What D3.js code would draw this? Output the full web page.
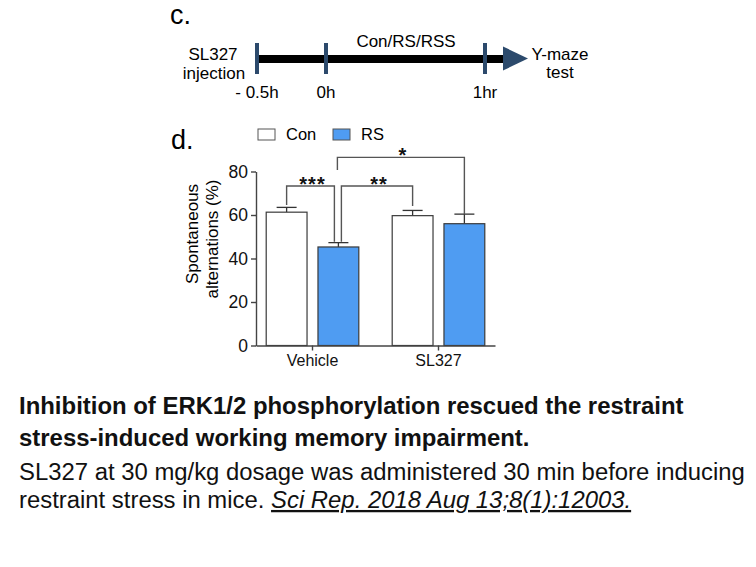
<!DOCTYPE html>
<html>
<head>
<meta charset="utf-8">
<script src="https://cdn.jsdelivr.net/npm/d3@7"></script>
<style>
  body { margin: 0; background: #fff; }
  svg { display: block; font-family: "Liberation Sans", Arial, sans-serif; }
</style>
</head>
<body>
<svg width="756" height="567"></svg>
<script>
// data
const groups = ['Vehicle', 'SL327'];
const conditions = ['Con', 'RS'];
const conMeans = [61.3, 59.7];
const rsMeans = [45.3, 56.0];
const conSem = [2.2, 2.4];
const rsSem = [2.0, 4.4];
const yTicks = [0, 20, 40, 60, 80];

// significance brackets: [group, condition] ends, heights in % units
const brackets = [
  {label: '***', from: ['Vehicle', 'Con'], to: ['Vehicle', 'RS'], top: 73.3, leftFoot: 64.6, rightFoot: 47.7},
  {label: '**', from: ['Vehicle', 'RS'], to: ['SL327', 'Con'], top: 73.3, leftFoot: 47.7, rightFoot: 64.1},
  {label: '*', from: ['Vehicle', 'RS'], to: ['SL327', 'RS'], top: 86.5, leftFoot: 80.7, rightFoot: 60.4}
];

// timeline (panel c)
const timePoints = [-0.5, 0, 1];
const timeLabels = ['- 0.5h', '0h', '1hr'];

const captionBold = [
  'Inhibition of ERK1/2 phosphorylation rescued the restraint',
  'stress-induced working memory impairment.'
];
const captionLine3 = 'SL327 at 30 mg/kg dosage was administered 30 min before inducing';
const captionLine4a = 'restraint stress in mice. ';
const captionLine4b = 'Sci Rep. 2018 Aug 13;8(1):12003.';

const svg = d3.select('svg');
const blue = '#4f9cf2';
const navy = '#2c4a6c';
const axisColor = '#444';

// ---------- panel c: timeline ----------
svg.append('text')
  .attr('x', 170).attr('y', 24)
  .attr('font-size', 27)
  .text('c.');

const tScale = d3.scaleLinear()
  .domain(timePoints)
  .range([257, 326, 485]);

svg.append('line')
  .attr('x1', tScale(-0.5)).attr('x2', 506)
  .attr('y1', 59).attr('y2', 59)
  .attr('stroke', '#000')
  .attr('stroke-width', 8);

svg.append('path')
  .attr('d', 'M503,46.5 L528,58.5 L503,70.5 Z')
  .attr('fill', navy);

svg.selectAll('.tick-bar')
  .data(timePoints)
  .join('rect')
  .attr('class', 'tick-bar')
  .attr('x', d => tScale(d) - 2)
  .attr('y', 43)
  .attr('width', 4)
  .attr('height', 31)
  .attr('fill', navy);

svg.selectAll('.time-label')
  .data(timePoints)
  .join('text')
  .attr('class', 'time-label')
  .attr('x', d => tScale(d))
  .attr('y', 98)
  .attr('text-anchor', 'middle')
  .attr('font-size', 17)
  .text((d, i) => timeLabels[i]);

const tl = [
  {t: 'SL327', x: 213, y: 60},
  {t: 'injection', x: 214, y: 79},
  {t: 'Con/RS/RSS', x: 406, y: 47},
  {t: 'Y-maze', x: 560, y: 60},
  {t: 'test', x: 560, y: 78}
];
svg.selectAll('.tl-text')
  .data(tl)
  .join('text')
  .attr('class', 'tl-text')
  .attr('x', d => d.x)
  .attr('y', d => d.y)
  .attr('text-anchor', 'middle')
  .attr('font-size', 17)
  .text(d => d.t);

// ---------- panel d: bar chart ----------
svg.append('text')
  .attr('x', 171).attr('y', 149)
  .attr('font-size', 27)
  .text('d.');

const x0 = d3.scaleBand()
  .domain(groups)
  .range([256, 495])
  .paddingInner(0.265)
  .paddingOuter(0.081);

const x1 = d3.scaleBand()
  .domain(conditions)
  .range([0, x0.bandwidth()])
  .paddingInner(0.2115);

const y = d3.scaleLinear()
  .domain([0, 80])
  .range([345.5, 171.5]);

const data = [];
groups.forEach((g, i) => {
  data.push({group: g, cond: 'Con', mean: conMeans[i], sem: conSem[i]});
  data.push({group: g, cond: 'RS', mean: rsMeans[i], sem: rsSem[i]});
});
const cx = (g, c) => x0(g) + x1(c) + x1.bandwidth() / 2;

// error bars (upper half only, as drawn)
const err = svg.append('g')
  .attr('stroke', '#333')
  .attr('stroke-width', 1.3);
data.forEach(d => {
  const xc = cx(d.group, d.cond);
  err.append('line')
    .attr('x1', xc).attr('x2', xc)
    .attr('y1', y(d.mean)).attr('y2', y(d.mean + d.sem));
  err.append('line')
    .attr('x1', xc - 10).attr('x2', xc + 10)
    .attr('y1', y(d.mean + d.sem)).attr('y2', y(d.mean + d.sem));
});

svg.append('g')
  .selectAll('rect')
  .data(data)
  .join('rect')
  .attr('x', d => x0(d.group) + x1(d.cond))
  .attr('y', d => y(d.mean))
  .attr('width', x1.bandwidth())
  .attr('height', d => y(0) - y(d.mean))
  .attr('fill', d => d.cond === 'RS' ? blue : '#fff')
  .attr('stroke', '#3a3a3a')
  .attr('stroke-width', 1.2);

const yAxis = d3.axisLeft(y)
  .tickValues(yTicks)
  .tickSize(5)
  .tickSizeOuter(0)
  .tickPadding(3);

const yAxisG = svg.append('g')
  .attr('transform', 'translate(256,0)')
  .call(yAxis);

const xAxis = d3.axisBottom(x0)
  .tickSize(5)
  .tickSizeOuter(0)
  .tickPadding(4);

const xAxisG = svg.append('g')
  .attr('transform', `translate(0,${y(0)})`)
  .call(xAxis);

[yAxisG, xAxisG].forEach(g => {
  g.selectAll('path, line').attr('stroke', axisColor).attr('stroke-width', 1.4);
  g.selectAll('text')
    .attr('fill', '#111')
    .attr('font-size', 16)
    .attr('font-family', '"Liberation Sans", Arial, sans-serif');
});
yAxisG.selectAll('text').attr('font-size', 17.5);

// y label
const yLab = svg.append('g')
  .attr('font-size', 17)
  .attr('text-anchor', 'middle');
yLab.append('text')
  .attr('transform', 'translate(198,234) rotate(-90)')
  .text('Spontaneous');
yLab.append('text')
  .attr('transform', 'translate(218,239) rotate(-90)')
  .text('alternations (%)');

// legend
const legend = svg.append('g');
conditions.forEach((c, i) => {
  const lx = [258, 333][i];
  legend.append('rect')
    .attr('x', lx).attr('y', 129)
    .attr('width', 17).attr('height', 11)
    .attr('fill', c === 'RS' ? blue : '#fff')
    .attr('stroke', '#555')
    .attr('stroke-width', 1);
  legend.append('text')
    .attr('x', lx + 28).attr('y', 139.5)
    .attr('font-size', 16.5)
    .text(c);
});

// significance brackets
const footNudge = {'***': [0, -4], '**': [3, 0], '*': [-1, 0]};
const sig = svg.append('g');
brackets.forEach(b => {
  const xa = cx(b.from[0], b.from[1]) + footNudge[b.label][0];
  const xb = cx(b.to[0], b.to[1]) + footNudge[b.label][1];
  sig.append('path')
    .attr('d', `M${xa},${y(b.leftFoot)} V${y(b.top)} H${xb} V${y(b.rightFoot)}`)
    .attr('fill', 'none')
    .attr('stroke', '#555')
    .attr('stroke-width', 1.4);
  sig.append('text')
    .attr('x', (xa + xb) / 2 + 2)
    .attr('y', y(b.top) + 4.5)
    .attr('text-anchor', 'middle')
    .attr('font-size', 20)
    .attr('font-weight', 'bold')
    .attr('letter-spacing', 1)
    .attr('fill', '#111')
    .text(b.label);
});

// ---------- caption ----------
const boldG = svg.append('g')
  .attr('font-size', 24)
  .attr('font-weight', 'bold')
  .attr('fill', '#111');
captionBold.forEach((t, i) => {
  boldG.append('text').attr('x', 0).attr('y', 414 + i * 32).text(t);
});
const bw = boldG.select('text').node().getComputedTextLength();
boldG.attr('transform', `translate(19,0) scale(${665 / bw},1)`);

const normG = svg.append('g')
  .attr('font-size', 23)
  .attr('fill', '#111');
const l3 = normG.append('text').attr('x', 0).attr('y', 480).text(captionLine3);
const l4 = normG.append('text').attr('x', 0).attr('y', 508);
l4.append('tspan').text(captionLine4a);
l4.append('tspan')
  .attr('font-style', 'italic')
  .attr('text-decoration', 'underline')
  .text(captionLine4b);
const nw = l3.node().getComputedTextLength();
normG.attr('transform', `translate(19,0) scale(${726 / nw},1)`);
</script>
</body>
</html>
